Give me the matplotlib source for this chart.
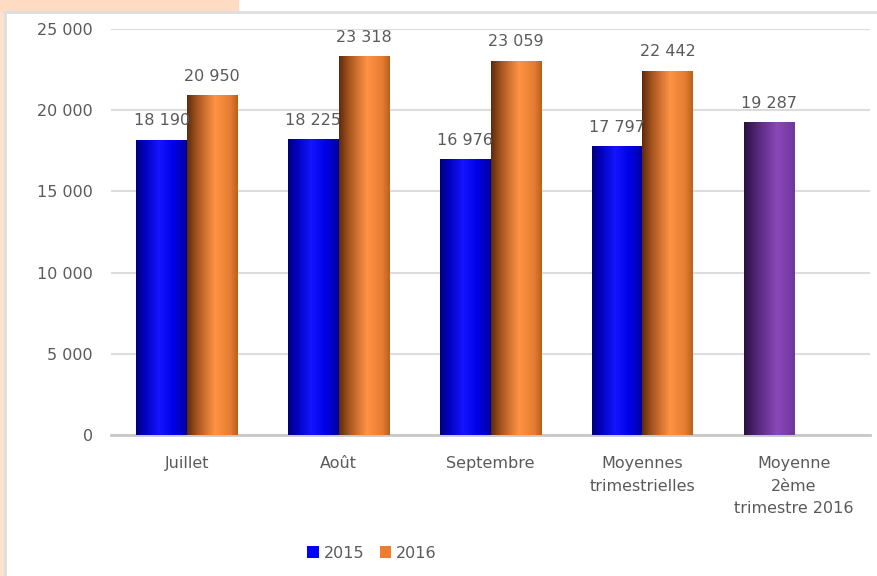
import numpy as np
import matplotlib.pyplot as plt
from matplotlib.colors import LinearSegmentedColormap
from matplotlib.patches import Rectangle
from matplotlib.ticker import FuncFormatter

categories = ["Juillet", "Août", "Septembre", "Moyennes\ntrimestrielles",
              "Moyenne\n2ème\ntrimestre 2016"]
values_2015 = [18190, 18225, 16976, 17797]
values_2016 = [20950, 23318, 23059, 22442]
moyenne_t2_2016 = [19287]

TEXT = "#5a5a5a"
FS = 11.5
plt.rcParams["font.family"] = ["DejaVu Sans"]

blue_cm = LinearSegmentedColormap.from_list(
    "b", [(0, "#000078"), (0.15, "#0000b8"), (0.45, "#1414ff"), (0.75, "#0000e6"), (1, "#00009c")])
orange_cm = LinearSegmentedColormap.from_list(
    "o", [(0, "#5e2a0c"), (0.2, "#a85520"), (0.55, "#ff9344"), (0.85, "#e67c32"), (1, "#b9601f")])
purple_cm = LinearSegmentedColormap.from_list(
    "p", [(0, "#2a1040"), (0.3, "#5a2a80"), (0.65, "#8a48b8"), (1, "#6e36a0")])


def fmt(v):
    return f"{int(v):,}".replace(",", " ")


def shade(ax, bars, cmap):
    grad = np.linspace(0, 1, 256).reshape(1, -1)
    for b in bars:
        x, w, h = b.get_x(), b.get_width(), b.get_height()
        im = ax.imshow(grad, cmap=cmap, extent=[x, x + w, 0, h], aspect="auto",
                       zorder=3, interpolation="bilinear")
        im.set_clip_path(b)


def label(ax, bars, values):
    for b, v in zip(bars, values):
        ax.annotate(fmt(v), (b.get_x() + b.get_width() / 2, b.get_height()),
                    xytext=(0, 8), textcoords="offset points", ha="center", va="bottom",
                    fontsize=FS, color=TEXT, zorder=6)


fig = plt.figure(figsize=(8.77, 5.76), dpi=100)
W, H = 877, 576

# peach frame and panel border
fig.patches.append(Rectangle((0, 0), 5 / W, 1, transform=fig.transFigure, color="#fde3cf", zorder=0))
fig.patches.append(Rectangle((0, 1 - 11 / H), 238 / W, 11 / H, transform=fig.transFigure,
                             color="#fddcc3", zorder=0))
fig.add_artist(plt.Line2D([4 / W, 1], [1 - 12 / H, 1 - 12 / H], color="#dedede", lw=2))
fig.add_artist(plt.Line2D([5 / W, 5 / W], [0, 1 - 12 / H], color="#dedede", lw=2))

ax = fig.add_axes([111 / W, 1 - 435 / H, 759 / W, 406 / H])
x = np.arange(len(categories))
w = 0.333

b15 = ax.bar(x[:4] - w / 2, values_2015, w, color="#0000ff", label="2015", zorder=2)
b16 = ax.bar(x[:4] + w / 2, values_2016, w, color="#ed7d31", label="2016", zorder=2)
bt2 = ax.bar(x[4:] - w / 2, moyenne_t2_2016, w, color="#7030a0", zorder=2)
shade(ax, b15, blue_cm)
shade(ax, b16, orange_cm)
shade(ax, bt2, purple_cm)
label(ax, b15, values_2015)
label(ax, b16, values_2016)
label(ax, bt2, moyenne_t2_2016)

ax.set_xlim(-0.5, len(categories) - 0.5)
ax.set_ylim(0, 25000)
ax.set_yticks(np.arange(0, 25001, 5000))
ax.yaxis.set_major_formatter(FuncFormatter(lambda v, p: fmt(v)))
ax.set_xticks(x)
ax.set_xticklabels(categories, linespacing=1.65)
ax.tick_params(axis="both", length=0, labelsize=FS, labelcolor=TEXT)
ax.tick_params(axis="y", pad=13)
ax.tick_params(axis="x", pad=15)
ax.grid(axis="y", color="#dcdcdc", lw=1.5, zorder=0)
for s in ["top", "right", "left"]:
    ax.spines[s].set_visible(False)
ax.spines["bottom"].set_color("#c8c8c8")
ax.spines["bottom"].set_linewidth(2)
ax.set_facecolor("none")

fig.legend(handles=[b15, b16], loc="center", bbox_to_anchor=(372 / W, 1 - 553 / H),
           ncol=2, frameon=False, fontsize=FS, labelcolor=TEXT, handlelength=0.7,
           handleheight=0.7, handletextpad=0.3, columnspacing=1.0)

fig.savefig("out.png", dpi=100)
